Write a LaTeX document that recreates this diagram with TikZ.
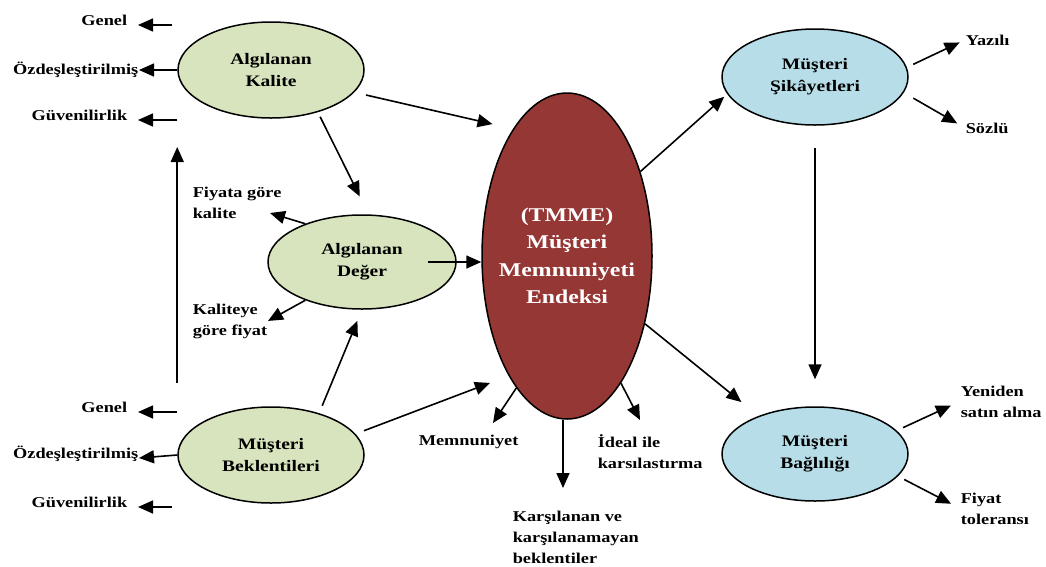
\documentclass[tikz,border=0pt]{standalone}
\usepackage{fontspec}
\setmainfont[FakeStretch=1.22]{Liberation Serif}
\usepackage{xcolor}
\usepackage{tikz}
\usetikzlibrary{shapes.geometric,arrows.meta}

\definecolor{kalgreen}{HTML}{D7E4BD}
\definecolor{sikblue}{HTML}{B7DEE8}
\definecolor{tmmered}{HTML}{953735}

\tikzset{
  >={Triangle[length=15pt,width=13pt]},
  oval/.style={draw, ellipse, line width=1.5pt, inner sep=0pt, align=center,
    font=\fontsize{16}{22}\selectfont\bfseries},
  lbl/.style={inner sep=0pt, align=left, font=\fontsize{15}{21}\selectfont\bfseries},
  every path/.style={line width=1.6pt}
}

\begin{document}
\begin{tikzpicture}[x=1pt, y=-1pt]
            \useasboundingbox (0,0) rectangle (1046,566);

            \node (kal) [oval, fill=kalgreen, minimum width=186pt, minimum height=96pt] at (271,70) {Algılanan\\Kalite};
            \node (deg) [oval, fill=kalgreen, minimum width=188pt, minimum height=94pt] at (362,262) {Algılanan\\Değer};
            \node (bek) [oval, fill=kalgreen, minimum width=186pt, minimum height=96pt] at (271,455) {Müşteri\\Beklentileri};
            \node (tmme) [oval, fill=tmmered, text=white, inner sep=-12pt, minimum width=170pt, minimum height=326pt,
              font=\fontsize{19.5}{27.5}\selectfont\bfseries] at (567,256) {(TMME)\\Müşteri\\Memnuniyeti\\Endeksi};
            \node (sik) [oval, fill=sikblue, minimum width=186pt, minimum height=96pt] at (815,77) {Müşteri\\Şikâyetleri};
            \node (bag) [oval, fill=sikblue, minimum width=186pt, minimum height=94pt] at (815,454) {Müşteri\\Bağlılığı};

            \node (gen1) [lbl, anchor=base east] at (128,25) {Genel};
            \node (ozd1) [lbl, anchor=base east] at (139,74) {Özdeşleştirilmiş};
            \node (gv1) [lbl, anchor=base east] at (128,120) {Güvenilirlik};
            \node (gen2) [lbl, anchor=base east] at (128,412) {Genel};
            \node (ozd2) [lbl, anchor=base east] at (139,458) {Özdeşleştirilmiş};
            \node (gv2) [lbl, anchor=base east] at (128,507) {Güvenilirlik};
            \node (fiy) [lbl, anchor=base west] at (192,218) {Fiyata göre\\kalite};
            \node (kfy) [lbl, anchor=base west] at (192,335) {Kaliteye\\göre fiyat};
            \node (mem) [lbl, anchor=base west] at (418,445) {Memnuniyet};
            \node (ide) [lbl, anchor=base west] at (597,468) {İdeal ile\\karsılastırma};
            \node (kar) [lbl, anchor=base west] at (512,563) {Karşılanan ve\\karşılanamayan\\beklentiler};
            \node (yaz) [lbl, anchor=base west] at (965,45) {Yazılı};
            \node (soz) [lbl, anchor=base west] at (965,133) {Sözlü};
            \node (yen) [lbl, anchor=base west] at (960,417) {Yeniden\\satın alma};
            \node (fyt) [lbl, anchor=base west] at (960,524) {Fiyat\\toleransı};

            \coordinate (fiytip) at (270,213);
            \coordinate (memtip) at (493,423);
            \coordinate (idetip) at (640,420);
            \coordinate (kartip) at (563,488);

            \draw[->, shorten <=5pt, shorten >=10pt] (kal.west |- gen1.base east) -- (gen1.base east);
            \draw[->] (kal.west) -- (kal.west -| ozd1.east);
            \draw[->, shorten >=10pt] (kal.west |- gv1.base east) -- (gv1.base east);
            \draw[->, shorten >=10pt] (bek.west |- gen2.base east) -- (gen2.base east);
            \draw[->] (bek.west) -- (ozd2.base east);
            \draw[->, shorten <=5pt, shorten >=10pt] (bek.west |- gv2.base east) -- (gv2.base east);
            \draw[->] ([yshift=72pt]bek.west) -- ([yshift=-77pt]kal.west);

            \draw[->, shorten <=5pt, shorten >=20pt] (kal.-42) -- (deg.82);
            \draw[->, shorten <=12pt, shorten >=21pt] (kal.-15) -- (tmme.113);
            \draw[->] (deg.146) -- (fiytip);
            \draw[->] (deg.214) -- (kfy.east);
            \draw[->] ([xshift=-29pt]deg.east) -- (deg.east -| tmme.west);
            \draw[->, shorten <=8pt, shorten >=12pt] (bek.41) -- (deg.south);
            \draw[->, shorten <=9pt, shorten >=20pt] (bek.14) -- (tmme.244);

            \draw[->] (tmme.249) -- (memtip);
            \draw[->] (kartip |- tmme.south) -- (kartip);
            \draw[->] (tmme.-67) -- (idetip);
            \draw[->, shorten >=4pt] (tmme.49) -- (sik.191);
            \draw[->, shorten >=22pt] (tmme.-41) -- (bag.146);
            \draw[->, shorten <=22pt, shorten >=27pt] (sik.south) -- (bag.north);

            \draw[->, shorten <=7pt, shorten >=6pt] (sik.6) -- (yaz.west);
            \draw[->, shorten <=11pt, shorten >=9pt] (sik.-10) -- (soz.west);
            \draw[->, shorten <=7pt, shorten >=10pt] (bag.16) -- (yen.west);
            \draw[->, shorten <=7pt, shorten >=10pt] (bag.-15) -- (fyt.west);
        \end{tikzpicture}
\end{document}
